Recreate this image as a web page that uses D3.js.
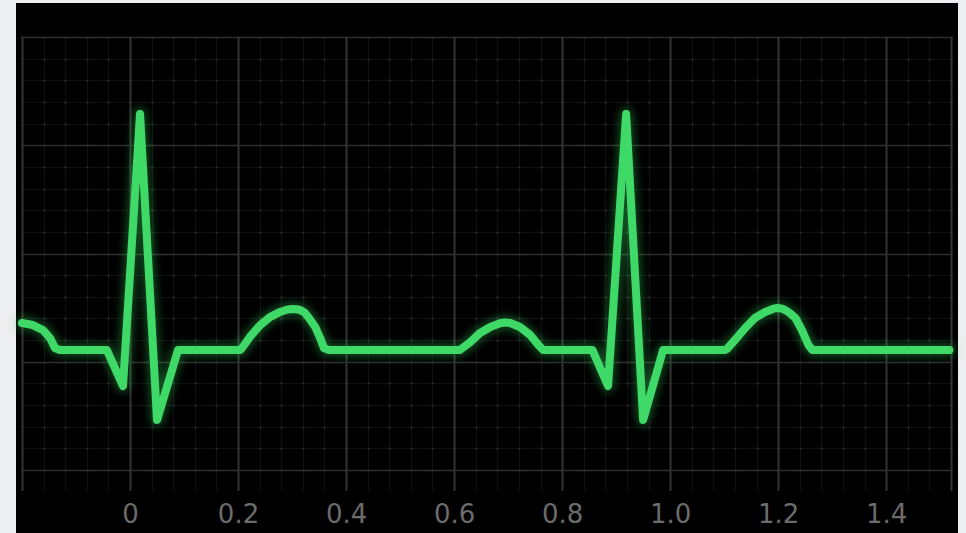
<!DOCTYPE html>
<html>
<head>
<meta charset="utf-8">
<script src="https://cdn.jsdelivr.net/npm/d3@7"></script>
<style>
  html, body { margin: 0; padding: 0; background: #eceef0; }
  svg { display: block; }
</style>
</head>
<body>
<svg id="chart" width="966" height="533"></svg>
<script>
// ---- Data ----
const timeValues = [
  -0.200, -0.180, -0.161, -0.148, -0.139, -0.130,
  -0.043, -0.013, 0.0185, 0.050, 0.089,
  0.204, 0.2074, 0.222, 0.241, 0.259, 0.278, 0.290, 0.300, 0.308, 0.315, 0.323, 0.330, 0.343, 0.352, 0.359, 0.367,
  0.611, 0.630, 0.648, 0.667, 0.685, 0.694, 0.704, 0.722, 0.741, 0.756, 0.765,
  0.856, 0.885, 0.9185, 0.950, 0.987,
  1.102, 1.1056, 1.120, 1.139, 1.157, 1.176, 1.190, 1.198, 1.206, 1.213, 1.222, 1.232, 1.244, 1.256, 1.263,
  1.517
];
const voltageValues = [
  1.358, 1.339, 1.293, 1.219, 1.127, 1.109,
  1.109, 0.776, 3.289, 0.462, 1.109,
  1.109, 1.127, 1.229, 1.339, 1.413, 1.460, 1.480, 1.487, 1.485, 1.478, 1.455, 1.413, 1.321, 1.219, 1.127, 1.109,
  1.109, 1.182, 1.266, 1.321, 1.355, 1.362, 1.358, 1.321, 1.247, 1.155, 1.109,
  1.109, 0.776, 3.289, 0.462, 1.109,
  1.109, 1.120, 1.201, 1.312, 1.404, 1.460, 1.488, 1.497, 1.493, 1.478, 1.448, 1.404, 1.293, 1.155, 1.109,
  1.109
];
const xTickLabels = ["0", "0.2", "0.4", "0.6", "0.8", "1.0", "1.2", "1.4"];
const xTickValues = [0, 0.2, 0.4, 0.6, 0.8, 1.0, 1.2, 1.4];
const xDomain = [-0.2, 1.52];
const yDomain = [0, 4];

(function () {
const svg = d3.select("#chart");
const W = 966, H = 533;
const pLeft = 22, pRight = 951, pTop = 37, pBottom = 470, tickBottom = 491;

svg.append("rect").attr("x", 16).attr("y", 3).attr("width", 942).attr("height", H - 3).attr("fill", "#000");

const x = d3.scaleLinear().domain(xDomain).range([pLeft, pRight]);
const y = d3.scaleLinear().domain(yDomain).range([pBottom, pTop]);

const grid = svg.append("g");

const xMinor = d3.range(0, 44).map(i => +(xDomain[0] + i * 0.04).toFixed(2)).filter(v => v <= xDomain[1] + 1e-9);
const yMinor = d3.range(0, 21).map(i => +(i * 0.2).toFixed(2));
const isMajorX = v => Math.abs(v / 0.2 - Math.round(v / 0.2)) < 1e-6;
const isMajorY = v => Math.abs(v - Math.round(v)) < 1e-6;

grid.selectAll("line.vminor").data(xMinor.filter(v => !isMajorX(v) && Math.abs(v - xDomain[1]) > 1e-6)).join("line")
  .attr("x1", d => Math.round(x(d)) + 0.5).attr("x2", d => Math.round(x(d)) + 0.5)
  .attr("y1", pTop).attr("y2", tickBottom)
  .attr("stroke", "#101010").attr("stroke-width", 1);
grid.selectAll("line.hminor").data(yMinor.filter(v => !isMajorY(v))).join("line")
  .attr("x1", pLeft).attr("x2", pRight)
  .attr("y1", d => Math.round(y(d)) + 0.5).attr("y2", d => Math.round(y(d)) + 0.5)
  .attr("stroke", "#101010").attr("stroke-width", 1);

const dots = [];
xMinor.forEach(xv => yMinor.forEach(yv => dots.push([xv, yv])));
grid.selectAll("rect.dot").data(dots).join("rect")
  .attr("x", d => Math.round(x(d[0])) - 0.5).attr("y", d => Math.round(y(d[1])) - 0.5)
  .attr("width", 2).attr("height", 2).attr("fill", "#2c2c2c");

const xMajor = [xDomain[0]].concat(xTickValues).concat([xDomain[1]]);
grid.selectAll("line.vmajor").data(xMajor).join("line")
  .attr("x1", d => Math.round(x(d)) + 0.5).attr("x2", d => Math.round(x(d)) + 0.5)
  .attr("y1", pTop).attr("y2", tickBottom)
  .attr("stroke", "#333333").attr("stroke-width", 2);
grid.selectAll("line.hmajor").data(d3.range(0, 5)).join("line")
  .attr("x1", pLeft).attr("x2", pRight)
  .attr("y1", d => Math.round(y(d)) + 0.5).attr("y2", d => Math.round(y(d)) + 0.5)
  .attr("stroke", "#2e2e2e").attr("stroke-width", 1.5);

const axis = d3.axisBottom(x).tickValues(xTickValues).tickSize(0).tickPadding(0)
  .tickFormat((d, i) => xTickLabels[i]);
const ax = svg.append("g").attr("transform", `translate(0, ${pBottom})`).call(axis);
ax.select(".domain").remove();
ax.selectAll("text")
  .attr("y", 53).attr("dy", 0)
  .attr("fill", "#6c6c6c")
  .style("font-family", "'DejaVu Sans', sans-serif")
  .style("font-size", "26px");

const pts = timeValues.map((t, i) => [t, voltageValues[i]]);
const line = d3.line().x(d => x(d[0])).y(d => y(d[1])).curve(d3.curveLinear);

const defs = svg.append("defs");
const f = defs.append("filter").attr("id", "glow").attr("x", "-10%").attr("y", "-10%").attr("width", "120%").attr("height", "120%");
f.append("feGaussianBlur").attr("stdDeviation", 4);

svg.append("path").datum(pts).attr("d", line)
  .attr("fill", "none").attr("stroke", "#2fbf55").attr("stroke-width", 13)
  .attr("stroke-linejoin", "round").attr("stroke-linecap", "round")
  .attr("opacity", 0.4).attr("filter", "url(#glow)");
svg.append("path").datum(pts).attr("d", line)
  .attr("fill", "none").attr("stroke", "#3fd968").attr("stroke-width", 8)
  .attr("stroke-linejoin", "round").attr("stroke-linecap", "round");
})();
</script>
</body>
</html>
